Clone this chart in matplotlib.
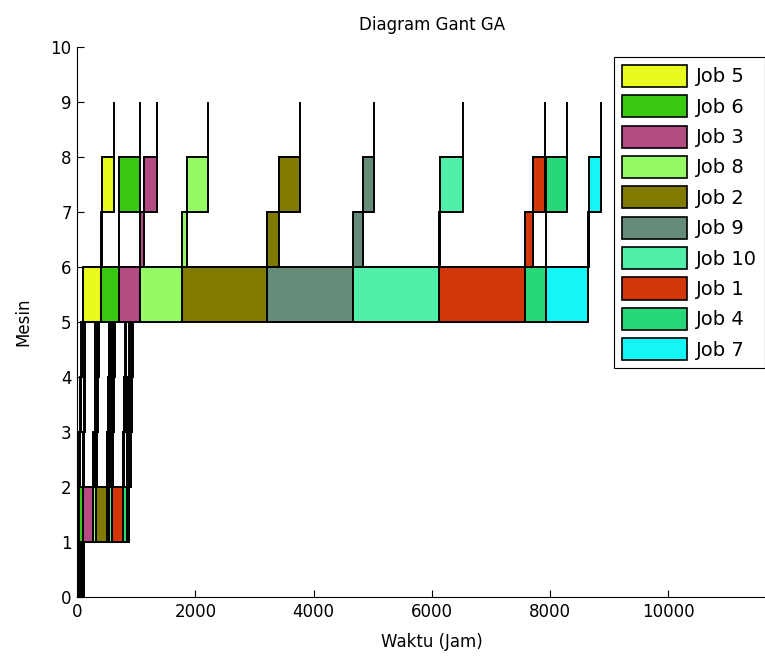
import numpy as np
import matplotlib
matplotlib.use('Agg')
import matplotlib.pyplot as plt
from matplotlib.patches import Patch

plt.rcParams['font.family'] = ['DejaVu Sans']

# urutan job hasil GA
jobs = ['Job 5', 'Job 6', 'Job 3', 'Job 8', 'Job 2', 'Job 9', 'Job 10', 'Job 1', 'Job 4', 'Job 7']
warna = ['#e8fa1e', '#37c80f', '#b44b82', '#96fa64', '#807a00',
         '#648c78', '#50f0aa', '#d2370a', '#28d778', '#14f5f5']

# waktu proses tiap job pada mesin 1..9 (jam)
mesin1 = [10, 12, 8, 14, 10, 11, 9, 13, 10, 12]
mesin2 = [24, 57, 180, 45, 181, 44, 51, 176, 68, 39]
mesin3 = [20, 15, 25, 10, 30, 12, 18, 22, 14, 40]
mesin4 = [17, 20, 12, 25, 15, 30, 10, 20, 28, 15]
mesin5 = [20, 12, 30, 18, 22, 15, 25, 12, 20, 18]
mesin6 = [305, 304, 361, 705, 1449, 1455, 1450, 1455, 350, 711]
mesin7 = [20, 0, 73, 85, 198, 169, 17, 141, 0, 22]
mesin8 = [205, 361, 209, 366, 355, 186, 394, 198, 366, 203]
mesin9 = [0, 0, 0, 0, 0, 0, 0, 0, 0, 0]

p = np.array([mesin1, mesin2, mesin3, mesin4, mesin5,
              mesin6, mesin7, mesin8, mesin9], dtype=float)
n_mesin, n_job = p.shape

# jadwal flow shop
mulai = np.zeros_like(p)
selesai = np.zeros_like(p)
for j in range(n_job):
    for m in range(n_mesin):
        a = selesai[m, j - 1] if j > 0 else 0
        b = selesai[m - 1, j] if m > 0 else 0
        mulai[m, j] = max(a, b)
        selesai[m, j] = mulai[m, j] + p[m, j]

fig = plt.figure(figsize=(7.65, 6.6), dpi=100)
ax = fig.add_axes([0.101, 0.0955, 0.927, 0.834])

for m in range(n_mesin):
    for j in range(n_job):
        ax.barh(m, p[m, j], left=mulai[m, j], height=1, align='edge',
                color=warna[j], edgecolor='black', linewidth=1.4)

ax.set_xlim(0, 12000)
ax.set_ylim(0, 10)
ax.set_xticks(np.arange(0, 10001, 2000))
ax.set_yticks(np.arange(0, 11, 1))
ax.tick_params(direction='in', labelsize=12, length=5, pad=4)
ax.spines['top'].set_visible(False)
ax.spines['right'].set_visible(False)
ax.set_title('Diagram Gant GA', fontsize=12, pad=12)
ax.set_xlabel('Waktu (Jam)', fontsize=12, labelpad=9)
ax.set_ylabel('Mesin', fontsize=12, labelpad=13)

handles = [Patch(facecolor=warna[j], edgecolor='black', linewidth=1.2, label=jobs[j])
           for j in range(n_job)]
leg = fig.legend(handles=handles, loc='upper left', bbox_to_anchor=(0.8026, 0.9136),
                 bbox_transform=fig.transFigure, borderaxespad=0, fontsize=14,
                 handlelength=3.34, handleheight=1.38, labelspacing=0.42,
                 handletextpad=0.5, borderpad=0.4, fancybox=False, framealpha=1)
leg.get_frame().set_edgecolor('black')
leg.get_frame().set_linewidth(0.8)

plt.savefig('out.png', dpi=100)
